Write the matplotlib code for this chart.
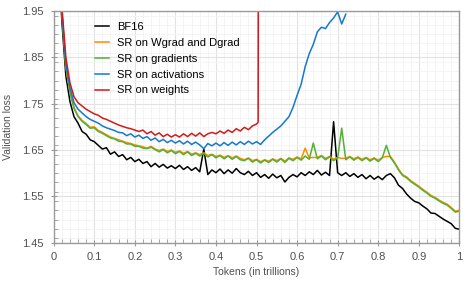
import matplotlib
matplotlib.use('Agg')
import matplotlib.pyplot as plt
from matplotlib.ticker import MultipleLocator

plt.rcParams['font.family'] = ['Liberation Sans', 'DejaVu Sans']

# tokens (in trillions), sampled every 0.01
tokens = [round(0.01 * i, 2) for i in range(1, 101)]

bf16 = [
    2.10, 1.93, 1.81, 1.755, 1.722, 1.708, 1.690, 1.684, 1.672, 1.668,
    1.660, 1.652, 1.655, 1.641, 1.646, 1.636, 1.640, 1.629, 1.634, 1.625,
    1.630, 1.621, 1.625, 1.614, 1.621, 1.613, 1.619, 1.611, 1.616, 1.610,
    1.617, 1.608, 1.614, 1.606, 1.612, 1.603, 1.652, 1.597, 1.607, 1.601,
    1.609, 1.599, 1.607, 1.600, 1.610, 1.601, 1.597, 1.604, 1.595, 1.601,
    1.591, 1.597, 1.589, 1.598, 1.590, 1.595, 1.581, 1.591, 1.597, 1.592,
    1.601, 1.595, 1.603, 1.597, 1.606, 1.596, 1.602, 1.595, 1.711, 1.601,
    1.595, 1.601, 1.593, 1.599, 1.591, 1.597, 1.588, 1.595, 1.587, 1.593,
    1.586, 1.595, 1.599, 1.590, 1.574, 1.567, 1.555, 1.546, 1.539, 1.536,
    1.529, 1.523, 1.514, 1.513, 1.507, 1.501, 1.496, 1.491, 1.481, 1.479,
]

sr_wgrad_dgrad = [
    2.10, 1.95, 1.83, 1.776, 1.742, 1.724, 1.714, 1.707, 1.699, 1.700,
    1.692, 1.688, 1.683, 1.678, 1.675, 1.672, 1.669, 1.666, 1.664, 1.661,
    1.659, 1.657, 1.654, 1.658, 1.652, 1.649, 1.652, 1.647, 1.650, 1.645,
    1.648, 1.643, 1.647, 1.641, 1.644, 1.640, 1.644, 1.638, 1.641, 1.636,
    1.639, 1.634, 1.638, 1.633, 1.637, 1.632, 1.629, 1.633, 1.627, 1.630,
    1.625, 1.629, 1.626, 1.631, 1.627, 1.632, 1.626, 1.633, 1.630, 1.635,
    1.631, 1.654, 1.633, 1.634, 1.634, 1.638, 1.632, 1.636, 1.630, 1.634,
    1.632, 1.632, 1.636, 1.631, 1.635, 1.630, 1.634, 1.629, 1.633, 1.628,
    1.634, 1.636, 1.636, 1.624, 1.609, 1.597, 1.592, 1.584, 1.578, 1.572,
    1.565, 1.559, 1.552, 1.548, 1.542, 1.537, 1.533, 1.526, 1.518, 1.520,
]

sr_gradients = [
    2.10, 1.95, 1.83, 1.775, 1.740, 1.722, 1.712, 1.705, 1.697, 1.698,
    1.690, 1.686, 1.681, 1.676, 1.674, 1.669, 1.668, 1.663, 1.663, 1.658,
    1.658, 1.654, 1.653, 1.656, 1.651, 1.646, 1.651, 1.644, 1.649, 1.642,
    1.647, 1.640, 1.646, 1.638, 1.643, 1.637, 1.643, 1.635, 1.640, 1.633,
    1.638, 1.631, 1.637, 1.630, 1.636, 1.629, 1.627, 1.632, 1.624, 1.629,
    1.622, 1.628, 1.623, 1.630, 1.624, 1.631, 1.623, 1.632, 1.627, 1.634,
    1.628, 1.637, 1.630, 1.665, 1.631, 1.637, 1.629, 1.635, 1.627, 1.633,
    1.697, 1.629, 1.635, 1.628, 1.634, 1.627, 1.633, 1.626, 1.632, 1.625,
    1.633, 1.660, 1.634, 1.622, 1.607, 1.595, 1.590, 1.582, 1.576, 1.570,
    1.563, 1.557, 1.550, 1.546, 1.540, 1.535, 1.531, 1.524, 1.516, 1.518,
]

# activations run stops at 0.72
sr_activations = [
    2.10, 1.95, 1.835, 1.785, 1.752, 1.738, 1.730, 1.722, 1.716, 1.712,
    1.708, 1.702, 1.698, 1.695, 1.692, 1.688, 1.687, 1.681, 1.685, 1.678,
    1.682, 1.675, 1.679, 1.671, 1.676, 1.668, 1.673, 1.666, 1.671, 1.665,
    1.670, 1.663, 1.669, 1.662, 1.667, 1.661, 1.653, 1.664, 1.659, 1.665,
    1.659, 1.666, 1.660, 1.667, 1.661, 1.668, 1.662, 1.669, 1.663, 1.668,
    1.662, 1.672, 1.680, 1.688, 1.695, 1.702, 1.712, 1.722, 1.742, 1.768,
    1.792, 1.830, 1.858, 1.878, 1.905, 1.915, 1.912, 1.925, 1.935, 1.948,
    1.922, 1.943,
]

# weights run diverges right after 0.5
sr_weights = [
    2.10, 1.96, 1.85, 1.795, 1.765, 1.752, 1.745, 1.738, 1.733, 1.728,
    1.725, 1.719, 1.716, 1.712, 1.708, 1.704, 1.701, 1.698, 1.696, 1.693,
    1.690, 1.693, 1.685, 1.690, 1.682, 1.687, 1.679, 1.684, 1.678, 1.683,
    1.678, 1.685, 1.679, 1.686, 1.680, 1.687, 1.679, 1.685, 1.688, 1.685,
    1.691, 1.686, 1.693, 1.688, 1.696, 1.691, 1.699, 1.694, 1.702, 1.706,
    1.710, 2.30,
]
weights_tokens = tokens[:50] + [0.504, 0.505]

fig, ax = plt.subplots(figsize=(4.76, 2.87), dpi=100)
fig.subplots_adjust(left=0.1128, right=0.965, top=0.9617, bottom=0.1544)

lw = 1.1
ax.plot(tokens, bf16, color='#000000', lw=lw, label='BF16')
ax.plot(tokens, sr_wgrad_dgrad, color='#ff8c00', lw=lw, label='SR on Wgrad and Dgrad')
ax.plot(tokens, sr_gradients, color='#52b033', lw=lw, label='SR on gradients')
ax.plot(tokens[:len(sr_activations)], sr_activations, color='#1578cf', lw=lw,
        label='SR on activations')
ax.plot(weights_tokens, sr_weights, color='#d21a1a', lw=lw, label='SR on weights')

ax.set_xlim(0, 1)
ax.set_ylim(1.45, 1.95)
ax.xaxis.set_minor_locator(MultipleLocator(0.02))
ax.yaxis.set_minor_locator(MultipleLocator(0.02))
ax.set_xticks([i / 10 for i in range(11)])
ax.set_xticklabels(['0', '0.1', '0.2', '0.3', '0.4', '0.5', '0.6', '0.7', '0.8', '0.9', '1'])
ax.set_yticks([1.45, 1.55, 1.65, 1.75, 1.85, 1.95])
ax.set_yticklabels(['1.45', '1.55', '1.65', '1.75', '1.85', '1.95'])

ax.grid(which='major', color='#e2e2e2', lw=0.8)
ax.grid(which='minor', color='#f2f2f2', lw=0.6)
ax.set_axisbelow(True)
for s in ax.spines.values():
    s.set_color('#9a9a9a')
    s.set_linewidth(1.0)
ax.tick_params(which='major', direction='inout', length=5, color='#9a9a9a',
               labelsize=8, labelcolor='#505050', pad=4.5)
ax.tick_params(which='minor', direction='in', length=3, color='#9a9a9a')
ax.tick_params(top=False, right=False, which='both')

ax.set_xlabel('Tokens (in trillions)', fontsize=7.5, color='#505050', labelpad=3)
ax.set_ylabel('Validation loss', fontsize=7.5, color='#505050', labelpad=7)

ax.legend(loc='upper left', bbox_to_anchor=(0.085, 0.98), frameon=False,
          fontsize=8, handlelength=1.3, handletextpad=0.7, labelspacing=0.52,
          borderaxespad=0.2)

fig.savefig('out.png', dpi=100)
